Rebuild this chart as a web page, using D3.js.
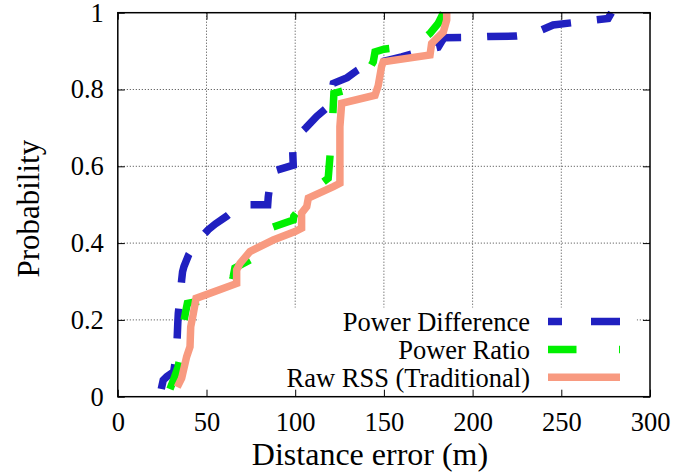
<!DOCTYPE html>
<html>
<head>
<meta charset="utf-8">
<script src="https://cdn.jsdelivr.net/npm/d3@7"></script>
<style>
  body { margin: 0; background: #fff; }
  svg { display: block; font-family: "Liberation Serif", "Times New Roman", serif; }
</style>
</head>
<body>
<div id="chart"></div>
<script>
// CDF data (distance error in m, cumulative probability)
const pdDist = [24.5, 25.6, 27.6, 31.5, 33.0, 33.2, 33.8, 34.1, 34.7, 35.5, 36.0, 36.5, 37.3, 40.0, 44.0, 51.0, 55.0, 61.4, 68.9, 76.0, 84.5, 84.8, 86.7, 98.9, 98.6, 101.7, 102.7, 106.0, 112.1, 118.6, 120.5, 121.5, 129.3, 135.0, 139.3, 160.0, 176.0, 180.6, 182.5, 184.0, 200.6, 208.8, 224.8, 229.0, 234.2, 245.4, 276.4, 278.3];
const pdProb = [0.02, 0.043, 0.052, 0.065, 0.11, 0.122, 0.19, 0.217, 0.243, 0.28, 0.304, 0.325, 0.339, 0.37, 0.40, 0.435, 0.45, 0.47, 0.50, 0.50, 0.50, 0.52, 0.586, 0.603, 0.638, 0.655, 0.686, 0.70, 0.73, 0.755, 0.79, 0.816, 0.831, 0.85, 0.862, 0.885, 0.905, 0.91, 0.925, 0.935, 0.936, 0.938, 0.939, 0.941, 0.946, 0.968, 0.985, 1.0];

const prDist = [29.4, 31.5, 33.9, 35.5, 36.5, 37.2, 38.2, 39.2, 46.3, 55.0, 64.0, 65.0, 66.0, 74.5, 77.0, 85.8, 98.9, 99.2, 101.0, 104.0, 108.0, 112.5, 118.6, 119.2, 120.2, 121.0, 121.8, 130.0, 139.0, 140.3, 144.0, 145.0, 150.0, 168.0, 170.3, 176.0, 180.6, 182.5, 183.5];
const prProb = [0.02, 0.045, 0.077, 0.11, 0.15, 0.195, 0.22, 0.243, 0.249, 0.27, 0.29, 0.311, 0.335, 0.356, 0.40, 0.439, 0.46, 0.47, 0.48, 0.50, 0.52, 0.548, 0.569, 0.603, 0.66, 0.715, 0.79, 0.80, 0.82, 0.842, 0.872, 0.898, 0.905, 0.915, 0.924, 0.946, 0.972, 0.99, 1.0];

const rawDist = [33.5, 36.0, 38.8, 40.7, 41.1, 42.6, 44.1, 67.0, 67.0, 68.9, 74.5, 87.6, 99.9, 103.6, 103.6, 106.5, 107.4, 121.5, 125.2, 125.2, 126.2, 145.0, 146.8, 148.7, 149.6, 176.0, 176.9, 183.5, 185.4, 185.4];
const rawProb = [0.025, 0.048, 0.104, 0.130, 0.182, 0.217, 0.256, 0.295, 0.330, 0.347, 0.378, 0.408, 0.430, 0.439, 0.478, 0.495, 0.517, 0.547, 0.556, 0.703, 0.764, 0.785, 0.81, 0.86, 0.872, 0.89, 0.92, 0.95, 0.981, 1.0];

const seriesNames = ["Power Difference", "Power Ratio", "Raw RSS (Traditional)"];
const xTicks = [0, 50, 100, 150, 200, 250, 300];
const yTicks = [0, 0.2, 0.4, 0.6, 0.8, 1];

const W = 700, H = 472;
const margin = {top: 12.7, right: 50, bottom: 75.3, left: 117.8};
const width = W - margin.left - margin.right;
const height = H - margin.top - margin.bottom;

const svg = d3.select("#chart")
    .append("svg")
    .attr("width", W)
    .attr("height", H)
    .append("g")
    .attr("transform", `translate(${margin.left},${margin.top})`);

const x = d3.scaleLinear().domain([0, 300]).range([0, width]);
const y = d3.scaleLinear().domain([0, 1]).range([height, 0]);

// dotted grid
svg.append("g")
    .selectAll("line")
    .data(xTicks.slice(1, -1))
    .join("line")
    .attr("x1", d => x(d)).attr("x2", d => x(d))
    .attr("y1", 0).attr("y2", height)
    .attr("stroke", "#444").attr("stroke-width", 1)
    .attr("stroke-dasharray", "1,2");
svg.append("g")
    .selectAll("line")
    .data(yTicks.slice(1, -1))
    .join("line")
    .attr("y1", d => y(d)).attr("y2", d => y(d))
    .attr("x1", 0).attr("x2", width)
    .attr("stroke", "#444").attr("stroke-width", 1)
    .attr("stroke-dasharray", "1,2");

// opaque key box hides the grid under the legend
const keyTop = y(0.232);
svg.append("rect")
    .attr("x", x(45.5)).attr("y", keyTop)
    .attr("width", x(292.5) - x(45.5)).attr("height", height - keyTop)
    .attr("fill", "#fff");

// axes with inward ticks
const fontSize = "26.5px";
svg.append("g")
    .attr("transform", `translate(0,${height})`)
    .call(d3.axisBottom(x).tickValues(xTicks).tickSizeInner(-7).tickSizeOuter(0).tickPadding(15))
    .call(g => g.select(".domain").remove())
    .selectAll("text").style("font-size", fontSize).attr("fill", "#000")
    .attr("font-family", "Liberation Serif");
svg.append("g")
    .call(d3.axisTop(x).tickValues(xTicks).tickSizeInner(-7).tickSizeOuter(0).tickFormat(""))
    .call(g => g.select(".domain").remove());
svg.append("g")
    .call(d3.axisLeft(y).tickValues(yTicks).tickSizeInner(-7).tickSizeOuter(0).tickPadding(14).tickFormat(d3.format("")))
    .call(g => g.select(".domain").remove())
    .selectAll("text").style("font-size", fontSize).attr("fill", "#000")
    .attr("font-family", "Liberation Serif");
svg.append("g")
    .attr("transform", `translate(${width},0)`)
    .call(d3.axisRight(y).tickValues(yTicks).tickSizeInner(-7).tickSizeOuter(0).tickFormat(""))
    .call(g => g.select(".domain").remove());

// the three CDF curves
const line = d3.line().x(d => x(d[0])).y(d => y(d[1]));
const series = [
    {pts: d3.zip(pdDist, pdProb), color: "#2020c0", dash: "30,26", legendDash: "29,29", legendOffset: 15},
    {pts: d3.zip(prDist, prProb), color: "#00f000", dash: "28.5,42.5", legendDash: "28.5,42.5", legendOffset: 0},
    {pts: d3.zip(rawDist, rawProb), color: "#f89a80", dash: null, legendDash: null, legendOffset: 0}
];

series.forEach(s => {
    svg.append("path")
        .datum(s.pts)
        .attr("d", line)
        .attr("fill", "none")
        .attr("stroke", s.color)
        .attr("stroke-width", 7.5)
        .attr("stroke-dasharray", s.dash);
});

// legend
series.forEach((s, i) => {
    const ly = 321.6 - margin.top + i * 27.8;
    svg.append("text")
        .attr("x", 530 - margin.left)
        .attr("y", ly + 9.5)
        .attr("text-anchor", "end")
        .style("font-size", fontSize)
        .text(seriesNames[i]);
    svg.append("line")
        .attr("x1", 548 - margin.left).attr("x2", 620 - margin.left)
        .attr("y1", ly).attr("y2", ly)
        .attr("stroke", s.color)
        .attr("stroke-width", 7.5)
        .attr("stroke-dasharray", s.legendDash)
        .attr("stroke-dashoffset", s.legendOffset);
});

// frame
svg.append("rect")
    .attr("width", width).attr("height", height)
    .attr("fill", "none").attr("stroke", "#000").attr("stroke-width", 1.5);

// axis labels
svg.append("text")
    .attr("text-anchor", "middle")
    .attr("x", 370 - margin.left)
    .attr("y", 465.5 - margin.top)
    .style("font-size", "32px")
    .text("Distance error (m)");
svg.append("text")
    .attr("text-anchor", "middle")
    .attr("transform", "rotate(-90)")
    .attr("x", -196)
    .attr("y", -79)
    .style("font-size", "31px")
    .text("Probability");
</script>
</body>
</html>
